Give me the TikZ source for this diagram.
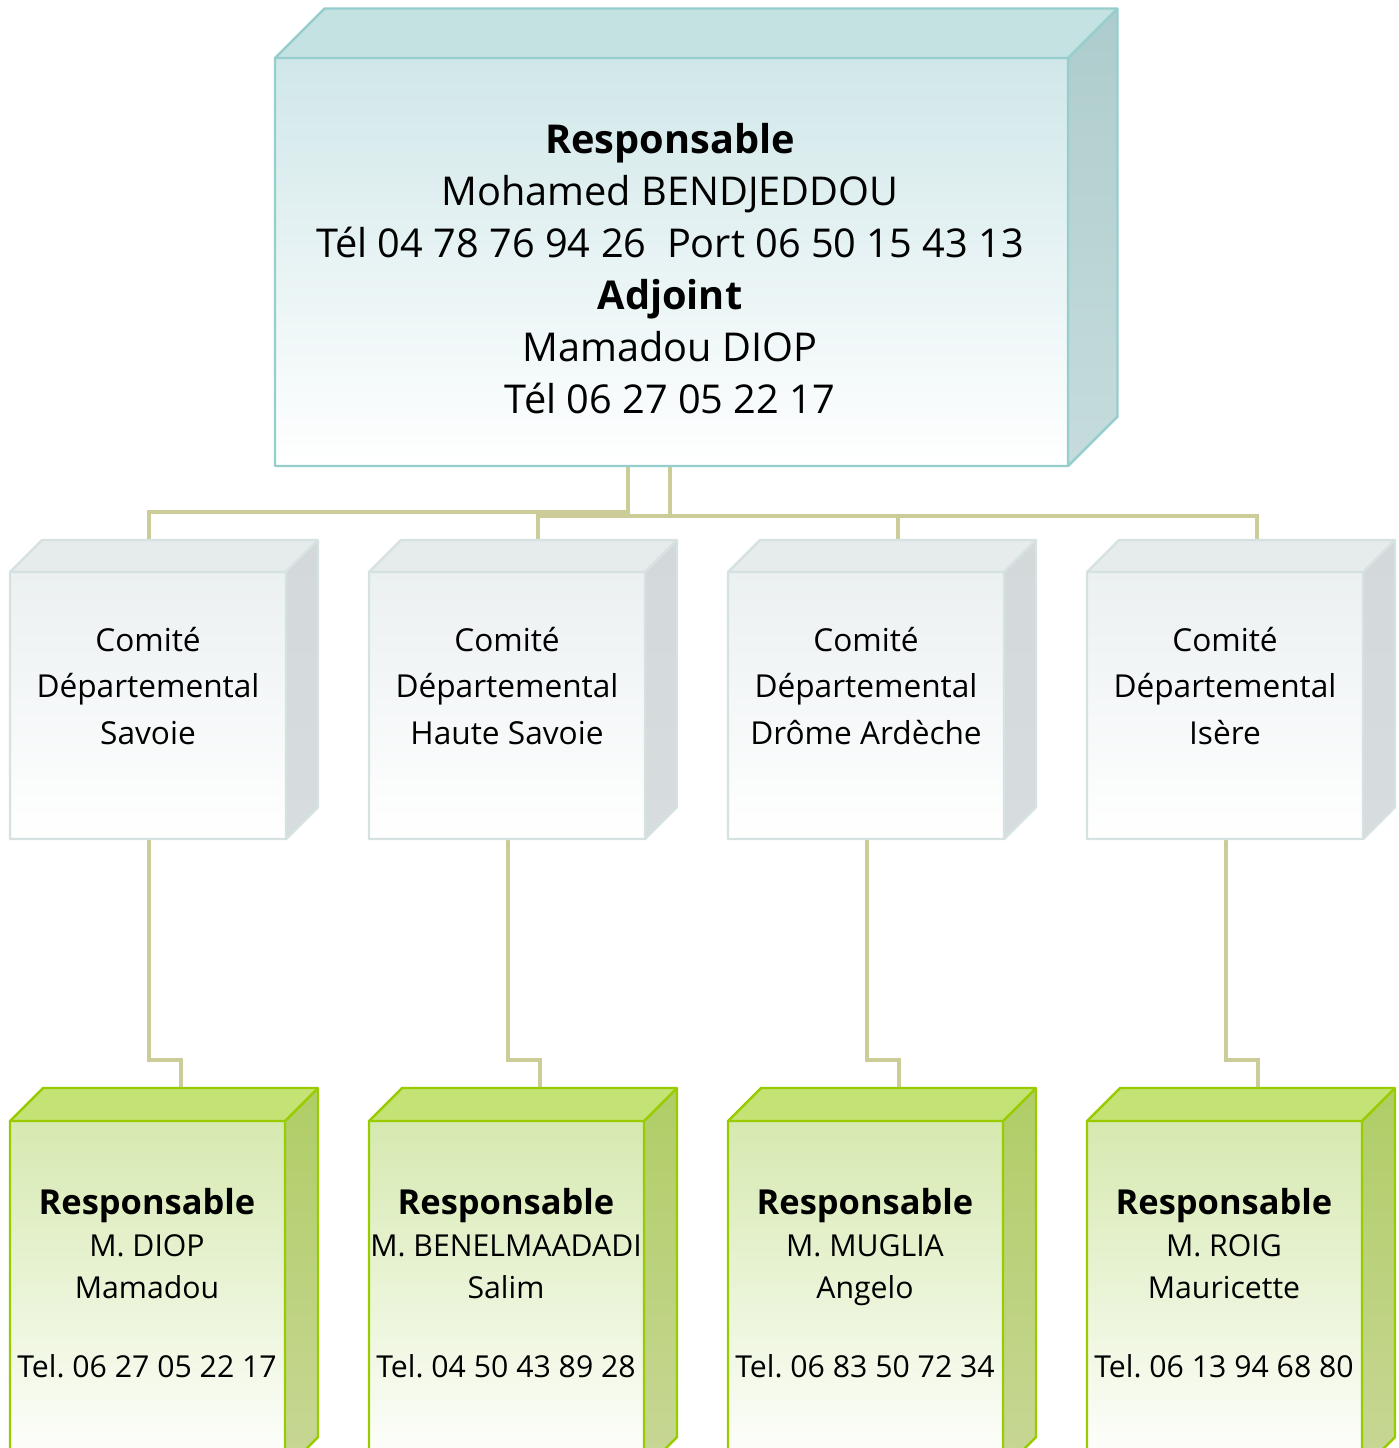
\documentclass[tikz,border=0pt]{standalone}
\usepackage{fontspec}
\setmainfont{Open Sans}
\usetikzlibrary{calc}

\definecolor{chfront}{RGB}{208,231,233}
\definecolor{chtop}{RGB}{196,226,226}
\definecolor{chside}{RGB}{174,204,205}
\definecolor{chsidelow}{RGB}{198,220,220}
\definecolor{chline}{RGB}{150,205,205}
\definecolor{cofront}{RGB}{235,240,241}
\definecolor{cotop}{RGB}{230,235,235}
\definecolor{coside}{RGB}{211,217,218}
\definecolor{cosidelow}{RGB}{215,221,222}
\definecolor{coline}{RGB}{214,225,225}
\definecolor{refront}{RGB}{214,233,176}
\definecolor{retop}{RGB}{197,226,117}
\definecolor{reside}{RGB}{176,205,102}
\definecolor{residelow}{RGB}{200,215,150}
\definecolor{reline}{RGB}{153,204,0}
\definecolor{lien}{RGB}{204,204,153}

% #1 left, #2 top, #3 right, #4 bottom, #5 depth, #6 colour prefix
\newcommand{\boite}[6]{%
  \fill[#6top] (#1,#2) -- ++(#5,#5) -- ([shift={(#5,#5)}]#3,#2) -- (#3,#2) -- cycle;
  \shade[top color=#6side, bottom color=#6sidelow] (#3,#2) -- ++(#5,#5) -- ([shift={(#5,#5)}]#3,#4) -- (#3,#4) -- cycle;
  \shade[top color=#6front, bottom color=white] (#1,#2) rectangle (#3,#4);
  \draw[#6line, line width=0.7pt, line join=round] (#1,#4) -- (#1,#2) -- ++(#5,#5) -- ([shift={(#5,#5)}]#3,#2) -- ([shift={(#5,#5)}]#3,#4) -- (#3,#4) -- cycle;
  \draw[#6line, line width=0.7pt, line join=round] (#1,#2) -- (#3,#2) -- ++(#5,#5) (#3,#2) -- (#3,#4);
}

\tikzset{
  lien/.style = {draw=lien, line width=1.4pt},
  txtchef/.style = {align=center, font=\fontsize{11.3}{14.8}\selectfont},
  txtcomite/.style = {align=center, font=\fontsize{9}{13.1}\selectfont},
  txtresp/.style = {align=center, font=\fontsize{8.6}{11.9}\selectfont}
}

\begin{document}
\begin{tikzpicture}
        \clip (0,0) rectangle (13.99,-14.48);
        \useasboundingbox (0,0) rectangle (13.99,-14.48);

        % connection points
        \coordinate (chef-a) at (6.28,-4.66);
        \coordinate (chef-b) at (6.70,-4.66);
        \coordinate (com1-n) at (1.49,-5.40);
        \coordinate (com2-n) at (5.38,-5.40);
        \coordinate (com3-n) at (8.98,-5.40);
        \coordinate (com4-n) at (12.57,-5.40);
        \coordinate (com1-s) at (1.49,-8.39);
        \coordinate (com2-s) at (5.08,-8.39);
        \coordinate (com3-s) at (8.67,-8.39);
        \coordinate (com4-s) at (12.26,-8.39);
        \coordinate (resp1-n) at (1.81,-10.88);
        \coordinate (resp2-n) at (5.40,-10.88);
        \coordinate (resp3-n) at (8.99,-10.88);
        \coordinate (resp4-n) at (12.58,-10.88);

        % connectors
        \draw[lien] (chef-a) -- ++(0,-0.46) -| (com1-n);
        \draw[lien] (chef-b) -- ++(0,-0.50) -| (com2-n);
        \draw[lien] (chef-b) -- ++(0,-0.50) -| (com3-n);
        \draw[lien] (chef-b) -- ++(0,-0.50) -| (com4-n);
        \draw[lien] (com1-s) -- ++(0,-2.21) -| (resp1-n);
        \draw[lien] (com2-s) -- ++(0,-2.21) -| (resp2-n);
        \draw[lien] (com3-s) -- ++(0,-2.21) -| (resp3-n);
        \draw[lien] (com4-s) -- ++(0,-2.21) -| (resp4-n);

        % boxes
        \boite{2.75}{-0.58}{10.68}{-4.66}{0.495}{ch}
        \boite{0.10}{-5.72}{2.86}{-8.39}{0.32}{co}
        \boite{3.69}{-5.72}{6.45}{-8.39}{0.32}{co}
        \boite{7.28}{-5.72}{10.04}{-8.39}{0.32}{co}
        \boite{10.87}{-5.72}{13.63}{-8.39}{0.32}{co}
        \boite{0.10}{-11.21}{2.85}{-14.70}{0.33}{re}
        \boite{3.69}{-11.21}{6.44}{-14.70}{0.33}{re}
        \boite{7.28}{-11.21}{10.03}{-14.70}{0.33}{re}
        \boite{10.87}{-11.21}{13.62}{-14.70}{0.33}{re}

        % texts
        \node[txtchef] (chef) at (6.70,-2.69) {\textbf{Responsable}\\Mohamed BENDJEDDOU\\Tél 04 78 76 94 26~~Port 06 50 15 43 13\\\textbf{Adjoint}\\Mamadou DIOP\\Tél 06 27 05 22 17};
        \node[txtcomite] (com1) at (1.48,-6.86) {Comité\\Départemental\\Savoie};
        \node[txtcomite] (com2) at (5.07,-6.86) {Comité\\Départemental\\Haute Savoie};
        \node[txtcomite] (com3) at (8.66,-6.86) {Comité\\Départemental\\Drôme Ardèche};
        \node[txtcomite] (com4) at (12.25,-6.86) {Comité\\Départemental\\Isère};
        \node[txtresp, anchor=north] (resp1) at (1.47,-11.76) {{\fontsize{9.8}{12}\selectfont\textbf{Responsable}}\\M. DIOP\\Mamadou\\[0.37cm]Tel.\ 06 27 05 22 17};
        \node[txtresp, anchor=north] (resp2) at (5.06,-11.76) {{\fontsize{9.8}{12}\selectfont\textbf{Responsable}}\\M. BENELMAADADI\\Salim\\[0.37cm]Tel.\ 04 50 43 89 28};
        \node[txtresp, anchor=north] (resp3) at (8.65,-11.76) {{\fontsize{9.8}{12}\selectfont\textbf{Responsable}}\\M. MUGLIA\\Angelo\\[0.37cm]Tel.\ 06 83 50 72 34};
        \node[txtresp, anchor=north] (resp4) at (12.24,-11.76) {{\fontsize{9.8}{12}\selectfont\textbf{Responsable}}\\M. ROIG\\Mauricette\\[0.37cm]Tel.\ 06 13 94 68 80};
\end{tikzpicture}
\end{document}
